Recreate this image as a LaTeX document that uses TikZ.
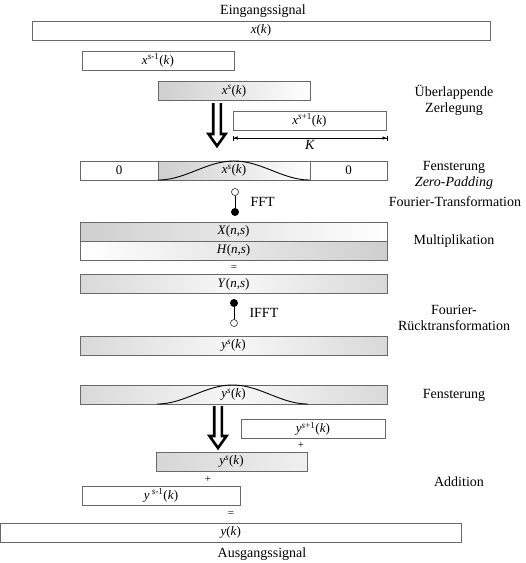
\documentclass[tikz,border=0pt]{standalone}
\usepackage{fontspec}
\setmainfont{Liberation Serif}
\usetikzlibrary{arrows.meta,positioning,calc}
\definecolor{boxGray}{RGB}{105,105,105}
\tikzset{
	sigbox/.style={
		draw=boxGray,
		line width=0.6pt,
		minimum height=19pt,
		inner sep=0pt,
		outer sep=0pt,
		font=\fontsize{13}{15}\selectfont
	},
	shadeL/.style={left color=gray!38, right color=white},
	shadeR/.style={left color=white, right color=gray!38},
	shadeM/.style={left color=gray!30, right color=gray!30, middle color=gray!6},
	lbl/.style={align=center, font=\fontsize{14}{16}\selectfont},
	winline/.style={line width=0.9pt},
	dimline/.style={{Bar[width=5pt]Latex[length=4pt,width=3.5pt]}-{Latex[length=4pt,width=3.5pt]Bar[width=5pt]}, line width=0.5pt},
	dblarr/.style={line width=2.6pt, fill=white, line join=miter},
	opendot/.style={circle, draw, fill=white, inner sep=0pt, minimum size=7pt, line width=0.5pt},
	fulldot/.style={circle, fill=black, inner sep=0pt, minimum size=8pt}
}
\newcommand{\sig}[2]{\textit{#1}\textsuperscript{\textit{s}#2}(\textit{k})}
\newcommand{\hollowdown}[2]{%
	\draw[dblarr] let \p1=(#1), \p2=(#2) in
		(\x1-3.8pt,\y1) -- (\x1-3.8pt,\y2+15pt) -- (\x1-8.5pt,\y2+15pt) -- (\x1,\y2+3pt)
		-- (\x1+8.5pt,\y2+15pt) -- (\x1+3.8pt,\y2+15pt) -- (\x1+3.8pt,\y1);}

\begin{document}
\begin{tikzpicture}[x=1pt, y=-1pt]
	\useasboundingbox (0,0) rectangle (526,563);
	% Zerlegung
	\node[lbl] (ein) at (263,11) {Eingangssignal};
	\node[sigbox, minimum width=458pt] (xk) at (261,30.5) {\textit{x}(\textit{k})};
	\node[sigbox, minimum width=152pt] (xm) at (158,60.5) {\sig{x}{-1}};
	\node[sigbox, minimum width=152pt, shadeL] (xs) at (234,91) {\sig{x}{}};
	\node[sigbox, minimum width=153pt] (xp) at (309.5,120.5) {\sig{x}{+1}};
	\coordinate (kl) at ($(xp.south west)+(0,8)$);
	\coordinate (kr) at ($(xp.south east)+(1,8)$);
	\draw[dimline] (kl) -- (kr) node[midway, below=-1pt, lbl] (kk) {\textit{K}};
	\node[lbl] (t1) at (454,100) {Überlappende\\Zerlegung};
	\coordinate (d1s) at (217,103);
	\coordinate (d1e) at (217,149);
	\hollowdown{d1s}{d1e}
	% Fensterung, Zero-Padding
	\node[sigbox, minimum width=78pt] (z1) at (119,170.5) {0};
	\node[sigbox, minimum width=152pt, shadeL] (xw) at (234,170.5) {\sig{x}{}};
	\node[sigbox, minimum width=77pt] (z2) at (348.5,170.5) {0};
	\draw[winline] plot[domain=0:1, samples=60] ({158+152*\x},{180-19*pow(sin(180*\x),2)});
	\node[lbl] (t2) at (454,175) {Fensterung\\\textit{Zero-Padding}};
	% FFT
	\node[opendot] (fo) at (235,192) {};
	\node[fulldot] (ff) at (235,212) {};
	\draw[line width=0.6pt] (fo) -- (ff);
	\node[lbl, anchor=west] (fft) at (247,202) {FFT};
	\node[lbl] (t3) at (455,202) {Fourier-Transformation};
	% Multiplikation
	\node[sigbox, minimum width=307pt, shadeL] (xn) at (233.5,231.5) {\textit{X}(\textit{n},\textit{s})};
	\node[sigbox, minimum width=307pt, shadeR] (hn) at (233.5,250.5) {\textit{H}(\textit{n},\textit{s})};
	\node[font=\fontsize{11}{12}\selectfont] (eq1) at (234,268) {=};
	\node[sigbox, minimum width=307pt, shadeM] (yn) at (233.5,284) {\textit{Y}(\textit{n},\textit{s})};
	\node[lbl] (t4) at (454,241) {Multiplikation};
	% IFFT
	\node[fulldot] (if) at (234,303) {};
	\node[opendot] (io) at (234,323) {};
	\draw[line width=0.6pt] (if) -- (io);
	\node[lbl, anchor=west] (ifft) at (246,313) {IFFT};
	\node[lbl] (t5) at (454,318) {Fourier-\\Rücktransformation};
	\node[sigbox, minimum width=307pt, shadeM] (ys) at (233.5,345.5) {\sig{y}{}};
	% Fensterung
	\node[sigbox, minimum width=307pt, shadeM] (yw) at (233.5,394.5) {\sig{y}{}};
	\draw[winline] plot[domain=0:1, samples=60] ({157+151*\x},{404-19*pow(sin(180*\x),2)});
	\node[lbl] (t6) at (454,395) {Fensterung};
	\coordinate (d2s) at (218,406);
	\coordinate (d2e) at (218,451);
	\hollowdown{d2s}{d2e}
	% Addition
	\node[sigbox, minimum width=144pt] (yp) at (313,429) {\sig{y}{+1}};
	\node[font=\fontsize{11}{12}\selectfont] (pl1) at (301,445) {+};
	\node[sigbox, minimum width=151pt, left color=gray!32, right color=gray!12] (ys2) at (231.5,461.5) {\sig{y}{}};
	\node[font=\fontsize{11}{12}\selectfont] (pl2) at (208,479) {+};
	\node[sigbox, minimum width=158pt] (ym) at (161,495.5) {\textit{y}\,\textsuperscript{\textit{s}-1}(\textit{k})};
	\node[font=\fontsize{11}{12}\selectfont] (eq2) at (231,514) {=};
	\node[sigbox, minimum width=460pt] (yk) at (230.8,532.5) {\textit{y}(\textit{k})};
	\node[lbl] (t7) at (459,482) {Addition};
	\node[lbl] (aus) at (262,554) {Ausgangssignal};
\end{tikzpicture}
\end{document}
